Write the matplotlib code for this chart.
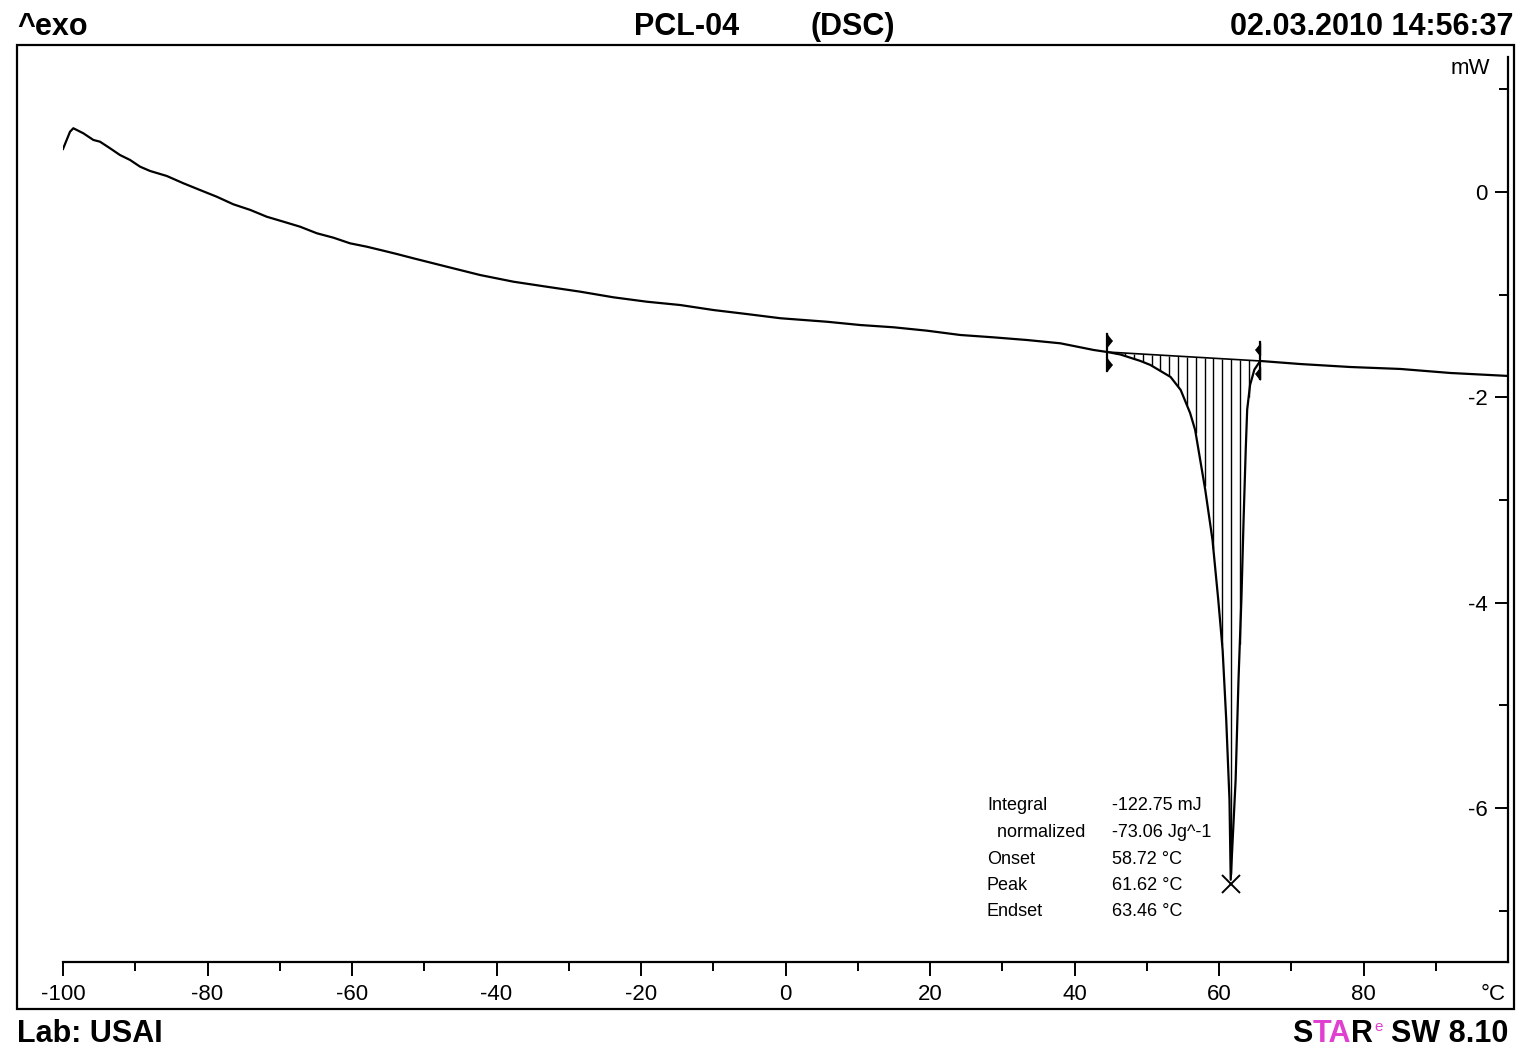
import numpy as np
import matplotlib
matplotlib.use('Agg')
import matplotlib.pyplot as plt
from matplotlib import patches

plt.rcParams['font.family'] = ['Liberation Sans', 'DejaVu Sans']
plt.rcParams['axes.unicode_minus'] = False

# DSC heating run of PCL-04, temperature in degC, heat flow in mW
temp = [-100.0, -99.03, -98.57, -97.19, -95.80, -94.88, -93.49, -92.11, -90.72,
        -89.34, -87.96, -85.64, -83.34, -81.03, -78.72, -76.42, -74.07, -71.80,
        -69.50, -67.19, -64.87, -62.58, -60.27, -57.95, -55.65, -53.80, -51.50,
        -46.87, -42.26, -37.65, -33.03, -28.42, -23.81, -19.18, -14.58, -9.96,
        -5.34, -0.69, 5.74, 10.35, 14.96, 19.58, 24.19, 28.81, 33.43, 38.04,
        42.65, 44.55,
        46.35, 49.12, 50.5, 53.3, 54.7, 56.0, 56.7, 58.1, 59.1, 59.9, 60.5, 61.0,
        61.45, 61.62,
        62.3, 62.7, 63.1, 63.4, 63.7, 63.9, 64.3, 64.9, 65.7,
        71.27, 78.2, 85.12, 92.0, 100.0]
heat_flow = [0.419, 0.587, 0.621, 0.572, 0.507, 0.490, 0.426, 0.360, 0.312,
             0.247, 0.205, 0.156, 0.085, 0.019, -0.046, -0.120, -0.175, -0.241,
             -0.289, -0.338, -0.402, -0.445, -0.500, -0.533, -0.572, -0.604, -0.646,
             -0.728, -0.809, -0.874, -0.923, -0.971, -1.026, -1.069, -1.101, -1.150,
             -1.189, -1.230, -1.264, -1.296, -1.318, -1.351, -1.393, -1.416, -1.442,
             -1.474, -1.539, -1.559,
             -1.583, -1.646, -1.685, -1.802, -1.929, -2.153, -2.319, -2.903, -3.39,
             -3.975, -4.46, -5.14, -5.92, -6.70,
             -5.73, -4.75, -3.97, -3.20, -2.51, -2.12, -1.88, -1.73, -1.646,
             -1.676, -1.705, -1.724, -1.763, -1.792]

# integration limits of the melting peak
limits = [44.55, 65.7]

result_names = ['Integral', '  normalized', 'Onset', 'Peak', 'Endset']
result_values = ['-122.75 mJ', '-73.06 Jg^-1', '58.72 \u00b0C', '61.62 \u00b0C', '63.46 \u00b0C']
peak_temp = 61.62

x_major = [-100, -80, -60, -40, -20, 0, 20, 40, 60, 80]
x_minor = [-90, -70, -50, -30, -10, 10, 30, 50, 70, 90]
y_major = [-6, -4, -2, 0]
y_minor = [-7, -5, -3, -1, 1]

W, H = 1522, 1053
fig = plt.figure(figsize=(W / 100, H / 100), dpi=100)
ax = fig.add_axes([63 / W, 1 - 962 / H, (1508 - 63) / W, (962 - 57) / H])

temp = np.array(temp)
heat_flow = np.array(heat_flow)
ax.plot(temp, heat_flow, color='black', lw=1.6, solid_joinstyle='round')

# straight baseline between the limits and vertical hatching of the peak area
base_y = np.interp(limits, temp, heat_flow)
ax.plot(limits, base_y, color='black', lw=1.2)
hatch_t = np.arange(45.8, 65.2, 1.22)
hatch_base = np.interp(hatch_t, limits, base_y)
hatch_curve = np.interp(hatch_t, temp, heat_flow)
ax.vlines(hatch_t, hatch_curve, hatch_base, color='black', lw=1.0)

# limit markers: short bar with two flags
left_flag = [(0, 1), (0, -1), (0.8, 0)]
right_flag = [(0, 1), (0, -1), (-0.8, 0)]
for t, y, flag in zip(limits, base_y, [left_flag, right_flag]):
    ax.plot([t, t], [y - 0.18, y + 0.18], color='black', lw=1.6)
    ax.plot([t, t], [y + 0.12, y - 0.12], ls='none', marker=flag, ms=9,
            color='black')

peak_y = np.interp(peak_temp, temp, heat_flow)
ax.plot(peak_temp, peak_y - 0.04, marker='x', ms=13, mew=1.4, color='black')

ax.set_xlim(-100, 100)
ax.set_ylim(-7.501, 1.315)
ax.spines['top'].set_visible(False)
ax.spines['right'].set_visible(False)
ax.spines['left'].set_position(('axes', 1.0))
for s in ['left', 'bottom']:
    ax.spines[s].set_linewidth(1.6)

ax.set_xticks(x_major)
ax.set_xticks(x_minor, minor=True)
ax.set_yticks(y_major)
ax.set_yticks(y_minor, minor=True)
ax.tick_params(axis='x', which='major', direction='out', length=10, width=1.4,
               labelsize=16, pad=6)
ax.tick_params(axis='x', which='minor', direction='out', length=6.5, width=1.4)
ax.tick_params(axis='y', which='major', direction='out', length=9.5, width=1.4,
               labelsize=16, pad=5)
ax.tick_params(axis='y', which='minor', direction='out', length=6.5, width=1.4)

fig.text(1506 / W, 1 - 995 / H, '\u00b0C', ha='right', va='center', fontsize=16)
fig.text(1490 / W, 1 - 69 / H, 'mW', ha='right', va='center', fontsize=16)

# evaluation results
row_y = [810, 837, 864, 890, 916]
for name, val, y in zip(result_names, result_values, row_y):
    fig.text(987 / W, 1 - y / H, name, fontsize=13, va='baseline')
    fig.text(1112 / W, 1 - y / H, val, fontsize=13, va='baseline')

# outer frame
frame = patches.Rectangle((17 / W, 1 - 1009 / H), (1514 - 17) / W, (1009 - 45) / H,
                          transform=fig.transFigure, fill=False, lw=1.6,
                          ec='black')
fig.add_artist(frame)

# header and footer
hdr = dict(fontsize=22, fontweight='bold', va='baseline')
fig.text(17 / W, 1 - 35 / H, '^exo', **hdr)
fig.text(634 / W, 1 - 35 / H, 'PCL-04', **hdr)
fig.text(810 / W, 1 - 35 / H, '(DSC)', **hdr)
fig.text(1514 / W, 1 - 35 / H, '02.03.2010 14:56:37', ha='right', **hdr)
fig.text(17 / W, 1 - 1042 / H, 'Lab: USAI', **hdr)

magenta = '#e040d0'
t_s = fig.text(1292 / W, 1 - 1042 / H, 'S', **hdr)
t_ta = ax.annotate('TA', xy=(1, 0), xycoords=t_s, va='bottom', ha='left',
                   fontsize=22, fontweight='bold', color=magenta,
                   annotation_clip=False)
t_r = ax.annotate('R', xy=(1, 0), xycoords=t_ta, va='bottom', ha='left',
                  fontsize=22, fontweight='bold', annotation_clip=False)
ax.annotate('e', xy=(1, 1), xycoords=t_r, xytext=(1, -1),
            textcoords='offset points', va='top', ha='left', fontsize=11,
            color=magenta, annotation_clip=False)
ax.annotate('SW 8.10', xy=(1, 0), xycoords=t_r, xytext=(13, 0),
            textcoords='offset points', va='bottom', ha='left', fontsize=22,
            fontweight='bold', annotation_clip=False)

fig.savefig('out.png', dpi=100)
